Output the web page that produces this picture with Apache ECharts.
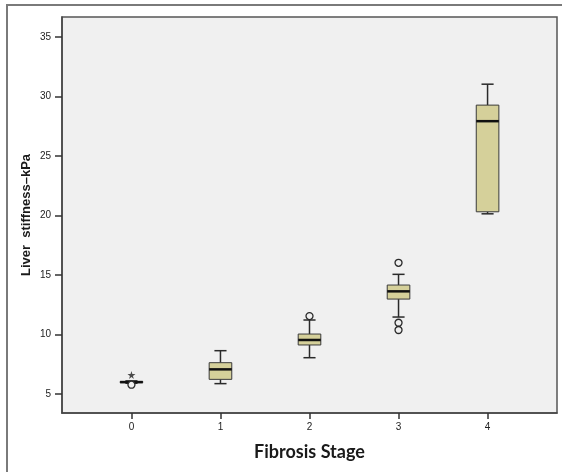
<!DOCTYPE html>
<html>
<head>
<meta charset="utf-8">
<script src="https://cdn.jsdelivr.net/npm/echarts@6/dist/echarts.min.js"></script>
<style>
  html, body { margin: 0; padding: 0; background: #fff; }
  #chart { width: 562px; height: 472px; }
</style>
</head>
<body>
<div id="chart"></div>
<script>
// fibrosis stages and box stats: [min, Q1, median, Q3, max]
const stages = [0, 1, 2, 3, 4]
const boxStats = [
  [5.9, 5.95, 6.0, 6.05, 6.1],
  [5.87, 6.23, 7.07, 7.63, 8.64],
  [8.05, 9.12, 9.54, 10.04, 11.22],
  [11.47, 12.98, 13.63, 14.16, 15.06],
  [20.15, 20.32, 27.94, 29.29, 31.05]
]
// outliers [stage, value]
const outliers = [[0, 5.78], [2, 11.55], [3, 16.03], [3, 10.99], [3, 10.38]]
const extremes = [[0, 6.6]]
const yTicks = [5, 10, 15, 20, 25, 30, 35]

const chart = echarts.init(document.getElementById('chart'))

const boxData = stages.map((s, i) => [s].concat(boxStats[i]))

const renderBox = (params, api) => {
  const x = api.value(0)
  const unit = api.size([1, 0])[0]
  const hw = unit * 0.127
  const cw = unit * 0.068
  const pMin = api.coord([x, api.value(1)])
  const pQ1 = api.coord([x, api.value(2)])
  const pMed = api.coord([x, api.value(3)])
  const pQ3 = api.coord([x, api.value(4)])
  const pMax = api.coord([x, api.value(5)])
  const cx = pMed[0]
  const lineStyle = { stroke: '#2a2a2a', lineWidth: 1.5 }
  return {
    type: 'group',
    children: [
      { type: 'line', shape: { x1: cx, y1: pQ3[1], x2: cx, y2: pMax[1] }, style: lineStyle },
      { type: 'line', shape: { x1: cx, y1: pQ1[1], x2: cx, y2: pMin[1] }, style: lineStyle },
      { type: 'line', shape: { x1: cx - cw, y1: pMax[1], x2: cx + cw, y2: pMax[1] }, style: lineStyle },
      { type: 'line', shape: { x1: cx - cw, y1: pMin[1], x2: cx + cw, y2: pMin[1] }, style: lineStyle },
      {
        type: 'rect',
        shape: { x: cx - hw, y: pQ3[1], width: hw * 2, height: Math.max(pQ1[1] - pQ3[1], 1) },
        style: { fill: '#d5d09a', stroke: '#3a3a3a', lineWidth: 1 }
      },
      { type: 'line', shape: { x1: cx - hw, y1: pMed[1], x2: cx + hw, y2: pMed[1] }, style: { stroke: '#111', lineWidth: 2.5 } }
    ]
  }
}

const option = {
  animation: false,
  backgroundColor: '#fff',
  graphic: [
    {
      type: 'rect',
      shape: { x: 7, y: 5, width: 570, height: 480 },
      style: { fill: 'none', stroke: '#7a7a7a', lineWidth: 2 },
      z: -1
    }
  ],
  grid: {
    left: 62,
    top: 17,
    right: 5,
    bottom: 59,
    show: true,
    backgroundColor: '#f0f0f0',
    borderColor: '#555',
    borderWidth: 1.5
  },
  xAxis: {
    type: 'value',
    min: -0.78,
    max: 4.78,
    name: 'Fibrosis Stage',
    nameLocation: 'middle',
    nameGap: 30,
    nameMoveOverlap: false,
    nameTextStyle: { fontFamily: 'Lato', fontWeight: 'bold', fontSize: 18, color: '#1a1a1a' },
    axisLine: { show: true, onZero: false, lineStyle: { color: '#444', width: 1.5 } },
    axisTick: { show: true, length: 6, customValues: stages, lineStyle: { color: '#333', width: 1.5 } },
    axisLabel: { customValues: stages, fontFamily: 'Arial', fontSize: 10, color: '#222', margin: 9 },
    splitLine: { show: false }
  },
  yAxis: {
    type: 'value',
    min: 3.4,
    max: 36.7,
    name: 'Liver  stiffness–kPa',
    nameLocation: 'middle',
    nameGap: 29,
    nameMoveOverlap: false,
    nameTextStyle: { fontFamily: 'Arial', fontWeight: 'bold', fontSize: 13, color: '#1a1a1a' },
    axisLine: { show: true, onZero: false, lineStyle: { color: '#444', width: 1.5 } },
    axisTick: { show: true, length: 7, customValues: yTicks, lineStyle: { color: '#333', width: 1.5 } },
    axisLabel: { customValues: yTicks, fontFamily: 'Arial', fontSize: 10, color: '#222', margin: 11 },
    splitLine: { show: false }
  },
  series: [
    {
      type: 'custom',
      renderItem: renderBox,
      encode: { x: 0, y: [1, 2, 3, 4, 5] },
      data: boxData,
      z: 2
    },
    {
      type: 'scatter',
      data: outliers,
      symbol: 'circle',
      symbolSize: 7,
      itemStyle: { color: '#f0f0f0', borderColor: '#2a2a2a', borderWidth: 1.3, opacity: 1 },
      z: 3
    },
    {
      type: 'scatter',
      data: extremes,
      symbol: 'path://M50,0 L61,35 L98,35 L68,57 L79,91 L50,70 L21,91 L32,57 L2,35 L39,35 Z',
      symbolSize: 8,
      itemStyle: { color: '#222' },
      z: 3
    }
  ]
}

chart.setOption(option)
window.addEventListener('resize', () => chart.resize())
</script>
</body>
</html>
